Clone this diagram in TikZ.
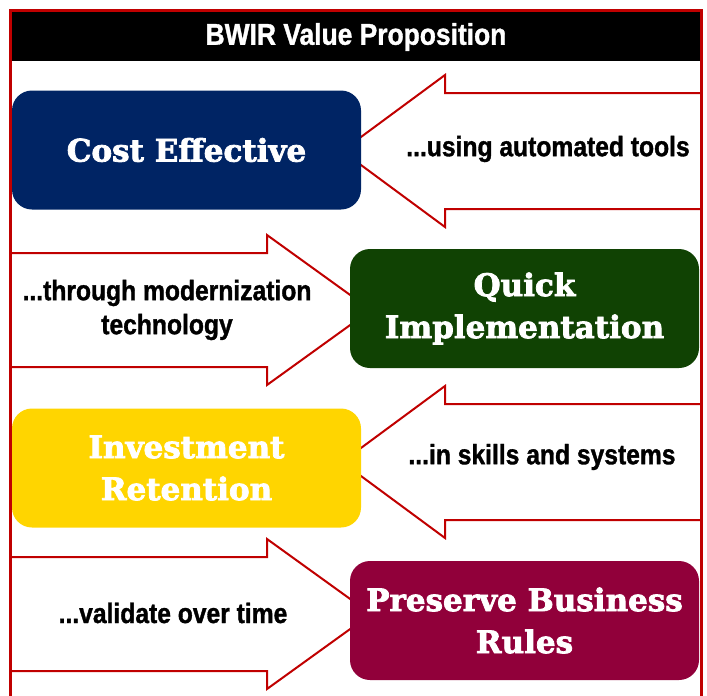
\documentclass[tikz,border=0pt]{standalone}
\usepackage{fontspec}
\usepackage{tikz}
\usetikzlibrary{backgrounds}
\newfontfamily\boxfont[BoldFeatures={FakeBold=2.5}]{DejaVu Serif}
\newfontfamily\narrowfont[FakeStretch=0.88, BoldFeatures={FakeBold=1.2}]{Liberation Sans}
\definecolor{framered}{RGB}{192,0,0}
\definecolor{costblue}{RGB}{0,36,100}
\definecolor{quickgreen}{RGB}{16,66,3}
\definecolor{investgold}{RGB}{255,213,0}
\definecolor{preservered}{RGB}{145,0,58}

\tikzset{
	valuebox/.style={rectangle, rounded corners=20pt, minimum width=349pt, minimum height=119pt, text=white, align=center, font=\boxfont\bfseries\fontsize{31}{42}\selectfont},
	blockarrow/.style={draw=framered, line width=2pt, fill=white, line join=miter},
	remark/.style={align=center, font=\narrowfont\bfseries\fontsize{28}{34}\selectfont}
}

\begin{document}
\begin{tikzpicture}[x=1pt, y=-1pt]
	\useasboundingbox (0, 0) rectangle (707, 696);

	% title bar
	\fill [black] (12, 12) rectangle (700, 61);
	\node at (356, 37) [text=white, font=\narrowfont\bfseries\fontsize{30}{36}\selectfont] (title) {BWIR Value Proposition};

	% block arrows
	\foreach \y in {151, 462}
		\draw [blockarrow] (702, \y-58) -- (445, \y-58) -- (445, \y-76) -- (342, \y) -- (445, \y+76) -- (445, \y+58) -- (702, \y+58);
	\foreach \y in {310, 614}
		\draw [blockarrow] (10, \y-57) -- (267, \y-57) -- (267, \y-75) -- (371, \y) -- (267, \y+75) -- (267, \y+57) -- (10, \y+57);

	\node at (186.5, 150) [valuebox, fill=costblue] (cost) {Cost Effective};
	\node at (524.5, 308.5) [valuebox, fill=quickgreen] (quick) {Quick\\Implementation};
	\node at (186.5, 468) [valuebox, fill=investgold] (invest) {Investment\\Retention};
	\node at (524.5, 620.5) [valuebox, fill=preservered] (preserve) {Preserve Business\\Rules};

	\node at (548, 149) [remark] (tools) {...using automated tools};
	\node at (167, 310) [remark] (modern) {...through modernization\\technology};
	\node at (542, 457) [remark] (skills) {...in skills and systems};
	\node at (173, 613) [remark] (validate) {...validate over time};

	%\draw [framered, line width=3pt] (10, 10) rectangle (701, 696);
	\draw [framered, line width=3pt] (10, 696) -- (10, 10) -- (701, 10) -- (701, 696);
\end{tikzpicture}
\end{document}
